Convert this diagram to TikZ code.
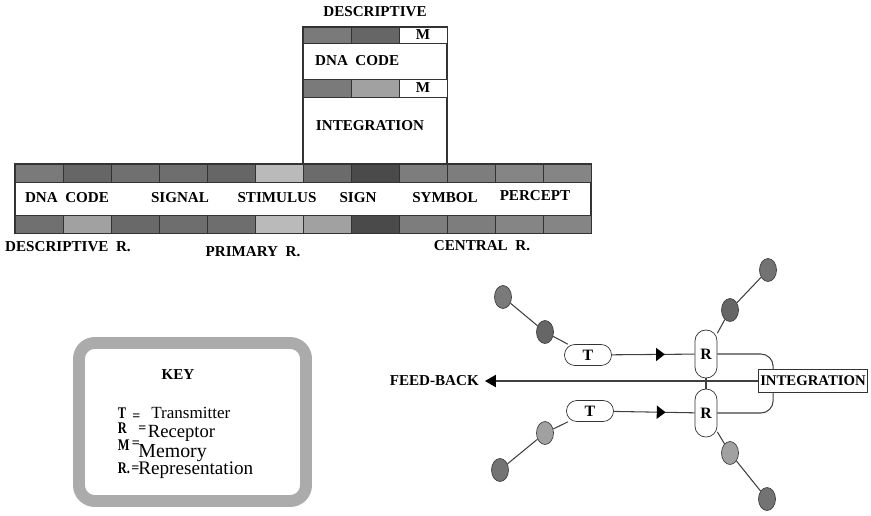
\documentclass[tikz,border=0pt]{standalone}
\usepackage{graphicx}
\usepackage{fontspec}
\setmainfont{Liberation Serif}
\usetikzlibrary{calc, positioning}
\usetikzlibrary{decorations.markings, arrows.meta, shapes.geometric}
% narrow bold letter of the key
\newcommand{\kl}[1]{\scalebox{0.8}[1.05]{#1}}
\tikzset{
  font=\fontsize{8.6}{10}\selectfont\bfseries,
  % Set arrowhead
  >={Triangle[length=5pt, width=7.5pt, color=black]},
  % Arrows with arrowhead in the middle
  ->-/.style={decoration={
      markings, mark=at position #1 with
      {\arrow{>}}},postaction={decorate}},
  % Strip cell, shade given in percent of black
  cell/.style={draw=black!80, fill=black!#1},
  % Transmitter node
  tnode/.style={draw=black!80, fill=white, rounded corners=5.9pt,
    minimum width=0.94cm, minimum height=0.42cm, inner sep=0pt,
    font=\fontsize{9}{10}\selectfont\bfseries},
  % Receptor node
  rnode/.style={tnode, rounded corners=6.2pt, minimum width=0.44cm,
    minimum height=0.96cm},
  % Cell body
  bnode/.style={draw=black!75, fill=black!#1, shape=ellipse,
    minimum width=0.34cm, minimum height=0.46cm, inner sep=0pt},
  % Integration node
  inode/.style={draw=black!80, fill=white, inner xsep=1pt, inner ysep=3.6pt,
    font=\fontsize{8.4}{10}\selectfont\bfseries},
  % Key entries: letter, equals sign, word
  kletter/.style={anchor=base west, inner sep=0pt,
    font=\fontsize{8.8}{10}\selectfont\bfseries},
  keq/.style={anchor=base west, inner sep=0pt,
    font=\fontsize{8}{10}\selectfont\bfseries},
  kword/.style={anchor=base west, inner sep=0pt,
    font=\fontsize{#1}{12}\selectfont},
  link/.style={draw=black!75, semithick},
}

\begin{document}
\begin{tikzpicture}[x=0.02cm, y=-0.02cm]
  \useasboundingbox (0,0) rectangle (871,515);

  % column above the band
  \draw[black!80, semithick] (303,27) rectangle (447,165);
  \foreach \c [count=\i from 0] in {52,60,0}
    \filldraw[cell=\c] ({303+48*\i},27) rectangle ++(48,16);
  \foreach \c [count=\i from 0] in {52,37,0}
    \filldraw[cell=\c] ({303+48*\i},79) rectangle ++(48,18);
  \node (m1) at (423,35) {M};
  \node (m2) at (423,88) {M};
  \node (desc) at (375,12) {DESCRIPTIVE};
  \node[anchor=west] (dna) at (309,61) {DNA\ \ CODE};
  \node (intgr) at (370,126) {INTEGRATION};

  % the band
  \draw[black!80, semithick, fill=white] (15,164) rectangle (591,233);
  \foreach \t/\b [count=\i from 0] in {52/56, 60/37, 56/59, 57/57, 60/57,
      27/27, 58/37, 71/71, 51/51, 51/51, 48/48, 48/48}{
    \filldraw[cell=\t] ({15+48*\i},164) rectangle ++(48,18);
    \filldraw[cell=\b] ({15+48*\i},215) rectangle ++(48,18);
  }
  \node (code) at (67,198) {DNA\ \ CODE};
  \node (signal) at (180,198) {SIGNAL};
  \node (stim) at (277,198) {STIMULUS};
  \node (sign) at (358,198) {SIGN};
  \node (symbol) at (445,198) {SYMBOL};
  \node (percept) at (535,196) {PERCEPT};
  \node (descr) at (68,247) {DESCRIPTIVE\ \ R.};
  \node (primr) at (253,252) {PRIMARY\ \ R.};
  \node (centr) at (482,246) {CENTRAL\ \ R.};

  % key
  \draw[line width=6.8pt, draw=black!33, fill=white, rounded corners=9pt]
    (79,343) rectangle (306,501);
  \node (key) at (178,375) {KEY};
  \node[kletter] (kt) at (117.5,418) {\kl{T}};
  \node[keq] (kteq) at (132,420) {=};
  \node[kword=9.7] (ktw) at (151,418) {Transmitter};
  \node[kletter] (kr) at (117.5,433) {\kl{R}};
  \node[keq] (kreq) at (138,432) {=};
  \node[kword=10.6] (krw) at (147.5,437.5) {Receptor};
  \node[kletter] (km) at (117.5,450) {\kl{M}};
  \node[keq] (kmeq) at (131.5,447) {=};
  \node[kword=11.3] (kmw) at (138,457) {Memory};
  \node[kletter] (krep) at (117.5,473) {\kl{R.}};
  \node[keq] (krepeq) at (131,472) {=};
  \node[kword=10.9] (krepw) at (138,474.5) {Representation};

  % receptors and transmitters
  \node[bnode=52] (ul1) at (503,297) {};
  \node[bnode=60] (ul2) at (545,332) {};
  \node[tnode] (t1) at (588,355) {T};
  \node[rnode] (r1) at (706,354) {R};
  \node[bnode=60] (ur1) at (730,310) {};
  \node[bnode=55] (ur2) at (768,270) {};
  \node[tnode] (t2) at (590,411) {T};
  \node[rnode] (r2) at (706,413) {R};
  \node[bnode=37] (ll1) at (545,433) {};
  \node[bnode=55] (ll2) at (500,470) {};
  \node[bnode=37] (lr1) at (730,453) {};
  \node[bnode=55] (lr2) at (767,499) {};
  \node[inode] (integ) at (813,381) {INTEGRATION};
  \node[anchor=east] (fb) at (485,381) {FEED-BACK};

  \draw[link] (ul1) -- (ul2) -- (t1);
  \draw[link] (t2) -- (ll1) -- (ll2);
  \draw[link] (r1) -- (ur1) -- (ur2);
  \draw[link] (r2) -- (lr1) -- (lr2);
  \draw[link, ->-=0.64] (t1) -- (r1);
  \draw[link, ->-=0.64] (t2) -- (r2);
  \draw[link] (r1) -- (r2);
  \draw[link, rounded corners=7pt] (r1.east) -| ($(integ.north west)+(15,0)$);
  \draw[link, rounded corners=7pt] (r2.east) -| ($(integ.south west)+(15,0)$);
  \draw[link, -{Triangle[length=6.2pt, width=7pt, color=black]}]
    (integ.west) -- (fb.east);
\end{tikzpicture}
\end{document}
